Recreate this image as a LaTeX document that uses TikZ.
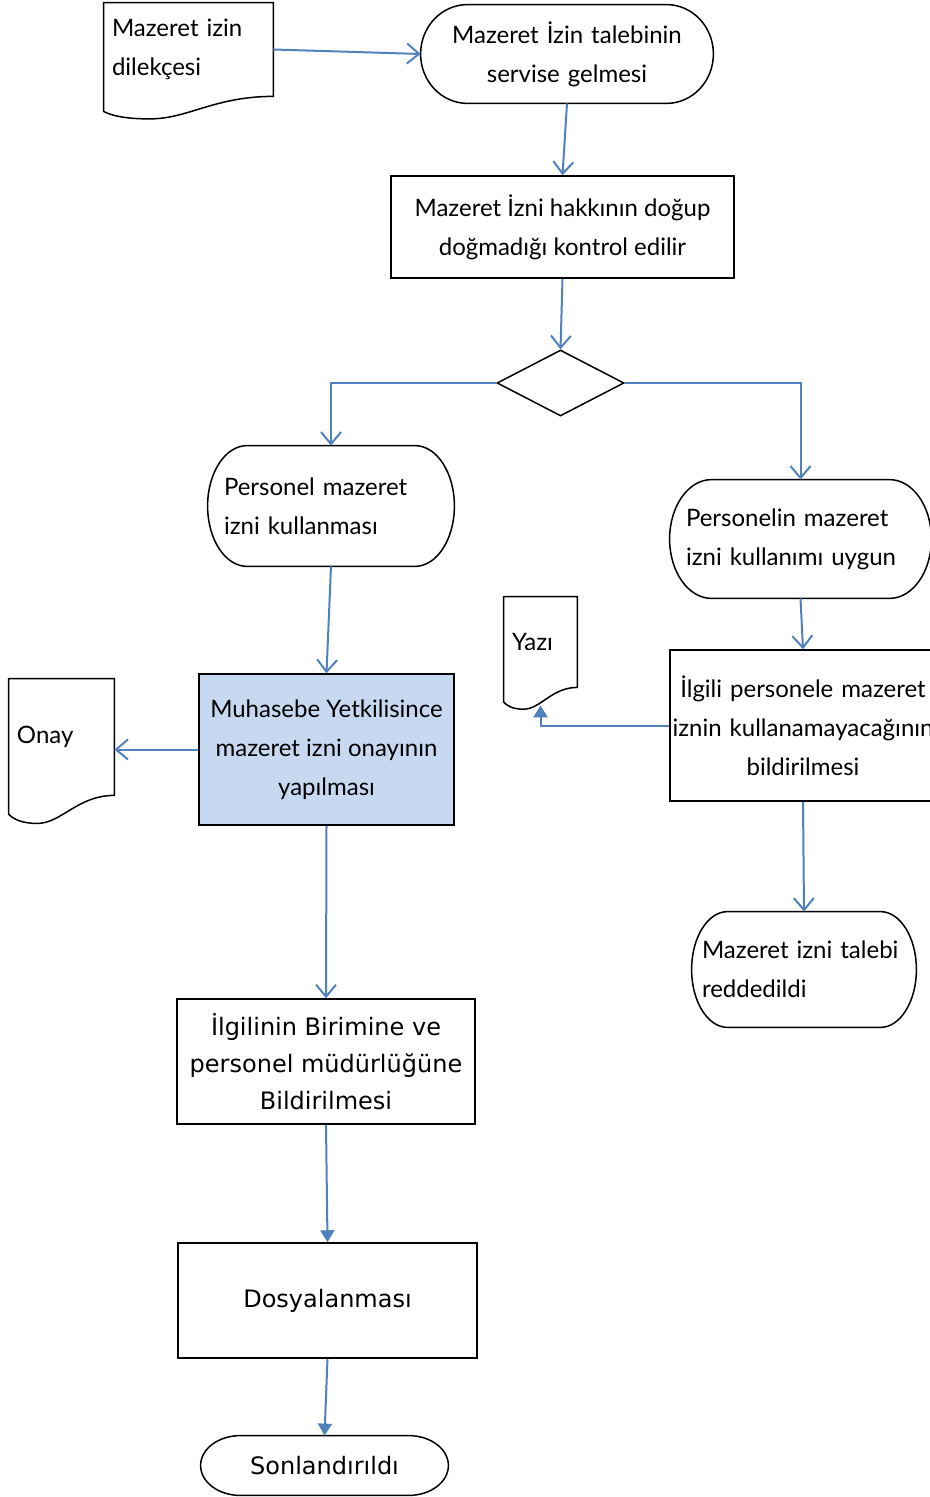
\documentclass[tikz,border=0pt]{standalone}
\usepackage{fontspec}
\setmainfont{Lato}
\newfontfamily\verdfont{DejaVu Sans}
\usetikzlibrary{arrows.meta,positioning,calc,shapes.geometric}
\definecolor{flowblue}{HTML}{4F81BD}
\definecolor{boxblue}{HTML}{C6D9F1}

% outline of a terminator (elliptic ends) round a node
\newcommand{\termedge}[1]{%
  \draw[shapeline] let \p1=(#1.south west), \p2=(#1.north east),
      \n1={0.16*(\x2-\x1)}, \n2={0.5*(\y2-\y1)} in
    (\x1+\n1,\y2) -- (\x2-\n1,\y2)
    arc[start angle=90, end angle=-90, x radius=\n1, y radius=\n2]
    -- (\x1+\n1,\y1)
    arc[start angle=270, end angle=90, x radius=\n1, y radius=\n2] -- cycle;}

% outline of a document shape (wavy bottom) round a node
\newcommand{\docedge}[1]{%
  \draw[shapeline] let \p1=(#1.south west), \p2=(#1.north east),
      \n1={\x2-\x1}, \n2={\y2-\y1} in
    (\x1,\y2) -- (\x2,\y2) -- (\x2,\y1)
    .. controls (\x2-0.35*\n1,\y1) and (\x1+0.5*\n1,\y1-0.24*\n2) .. (\x1+0.27*\n1,\y1-0.24*\n2)
    .. controls (\x1+0.12*\n1,\y1-0.24*\n2) and (\x1+0.04*\n1,\y1-0.2*\n2) .. (\x1,\y1-0.16*\n2)
    -- cycle;}

\begin{document}
\begin{tikzpicture}[x=0.5pt, y=-0.5pt,
  arr/.style={draw=flowblue, line width=1pt, -{Straight Barb[length=6pt,width=10pt]}},
  arrf/.style={draw=flowblue, line width=1pt, -{Triangle[length=6pt,width=7pt]}},
  shapeline/.style={draw=black, line width=0.75pt},
  box/.style={draw, line width=0.75pt, align=center, inner sep=0pt,
              font=\fontsize{12}{19.5}\selectfont},
  term/.style={inner xsep=8pt, inner ysep=0pt, align=left,
               font=\fontsize{12}{19.5}\selectfont},
  docbox/.style={inner xsep=4pt, inner ysep=0pt, align=left,
                 font=\fontsize{12}{19.5}\selectfont},
  bigfont/.style={font=\verdfont\fontsize{12}{18.5}\selectfont},
]
\useasboundingbox (0,0) rectangle (930,1497);

% top row
\node[docbox, minimum width=84.5pt, minimum height=46.5pt, text width=76.5pt] (dilekce) at (188.5,49.5)
  {Mazeret izin\\dilekçesi};
\node[term, align=center, minimum width=146pt, minimum height=49pt, text width=130pt] (talep) at (567,54)
  {Mazeret İzin talebinin\\servise gelmesi};
\node[box, minimum width=171.5pt, minimum height=51pt] (kontrol) at (562.5,227)
  {Mazeret İzni hakkının doğup\\doğmadığı kontrol edilir};
\node[draw, diamond, line width=0.75pt, minimum width=63.5pt, minimum height=33pt, inner sep=0pt] (karar) at (560.5,383) {};

% branches
\node[term, minimum width=123pt, minimum height=60pt, text width=107pt] (kullan) at (331,506)
  {Personel mazeret\\izni kullanması};
\node[term, minimum width=130.5pt, minimum height=59pt, text width=114.5pt] (uygun) at (800.5,539)
  {Personelin mazeret\\izni kullanımı uygun};
\node[box, fill=boxblue, minimum width=127.5pt, minimum height=75.5pt] (muhasebe) at (326.5,749.5)
  {Muhasebe Yetkilisince\\mazeret izni onayının\\yapılması};
\node[docbox, minimum width=52.5pt, minimum height=58pt, text width=44.5pt] (onay) at (61.5,737) {Onay};
\node[docbox, minimum width=36.5pt, minimum height=45pt, text width=28.5pt] (yazi) at (540.5,642) {Yazı};
\node[box, minimum width=133pt, minimum height=75.5pt, text width=133pt] (iptal) at (803,725.5)
  {İlgili personele mazeret\\iznin kullanamayacağının\\bildirilmesi};
\node[term, inner xsep=5pt, minimum width=112pt, minimum height=57.5pt, text width=102pt] (red) at (804,969.5)
  {Mazeret izni talebi\\reddedildi};

% bottom column
\node[box, bigfont, minimum width=149pt, minimum height=62.5pt] (birim) at (326,1061.5)
  {İlgilinin Birimine ve\\personel müdürlüğüne\\Bildirilmesi};
\node[box, bigfont, minimum width=149.5pt, minimum height=57.5pt] (dosya) at (327.5,1300.5) {Dosyalanması};
\node[term, bigfont, align=center, minimum width=123.5pt, minimum height=29.5pt, text width=107.5pt] (son) at (324.5,1465.5)
  {Sonlandırıldı};

\termedge{talep}
\termedge{kullan}
\termedge{uygun}
\termedge{red}
\termedge{son}
\docedge{dilekce}
\docedge{onay}
\docedge{yazi}

% connectors
\draw[arr] (dilekce.east) -- (talep.west);
\draw[arr] (talep.south) -- (kontrol.north);
\draw[arr] (kontrol.south) -- (karar.north);
\draw[arr] (karar.west) -| (kullan.north);
\draw[arr] (karar.east) -| (uygun.north);
\draw[arr] (kullan.south) -- (muhasebe.north);
\draw[arr] (muhasebe.west) -- (muhasebe.west -| onay.east);
\draw[arr] (uygun.south) -- (iptal.north);
\draw[arrf] (iptal.west) -| ([yshift=-9pt]yazi.south);
\draw[arr] (iptal.south) -- (red.north);
\draw[arr] (muhasebe.south) -- (birim.north);
\draw[arrf] (birim.south) -- (dosya.north);
\draw[arrf] (dosya.south) -- (son.north);
\end{tikzpicture}
\end{document}
